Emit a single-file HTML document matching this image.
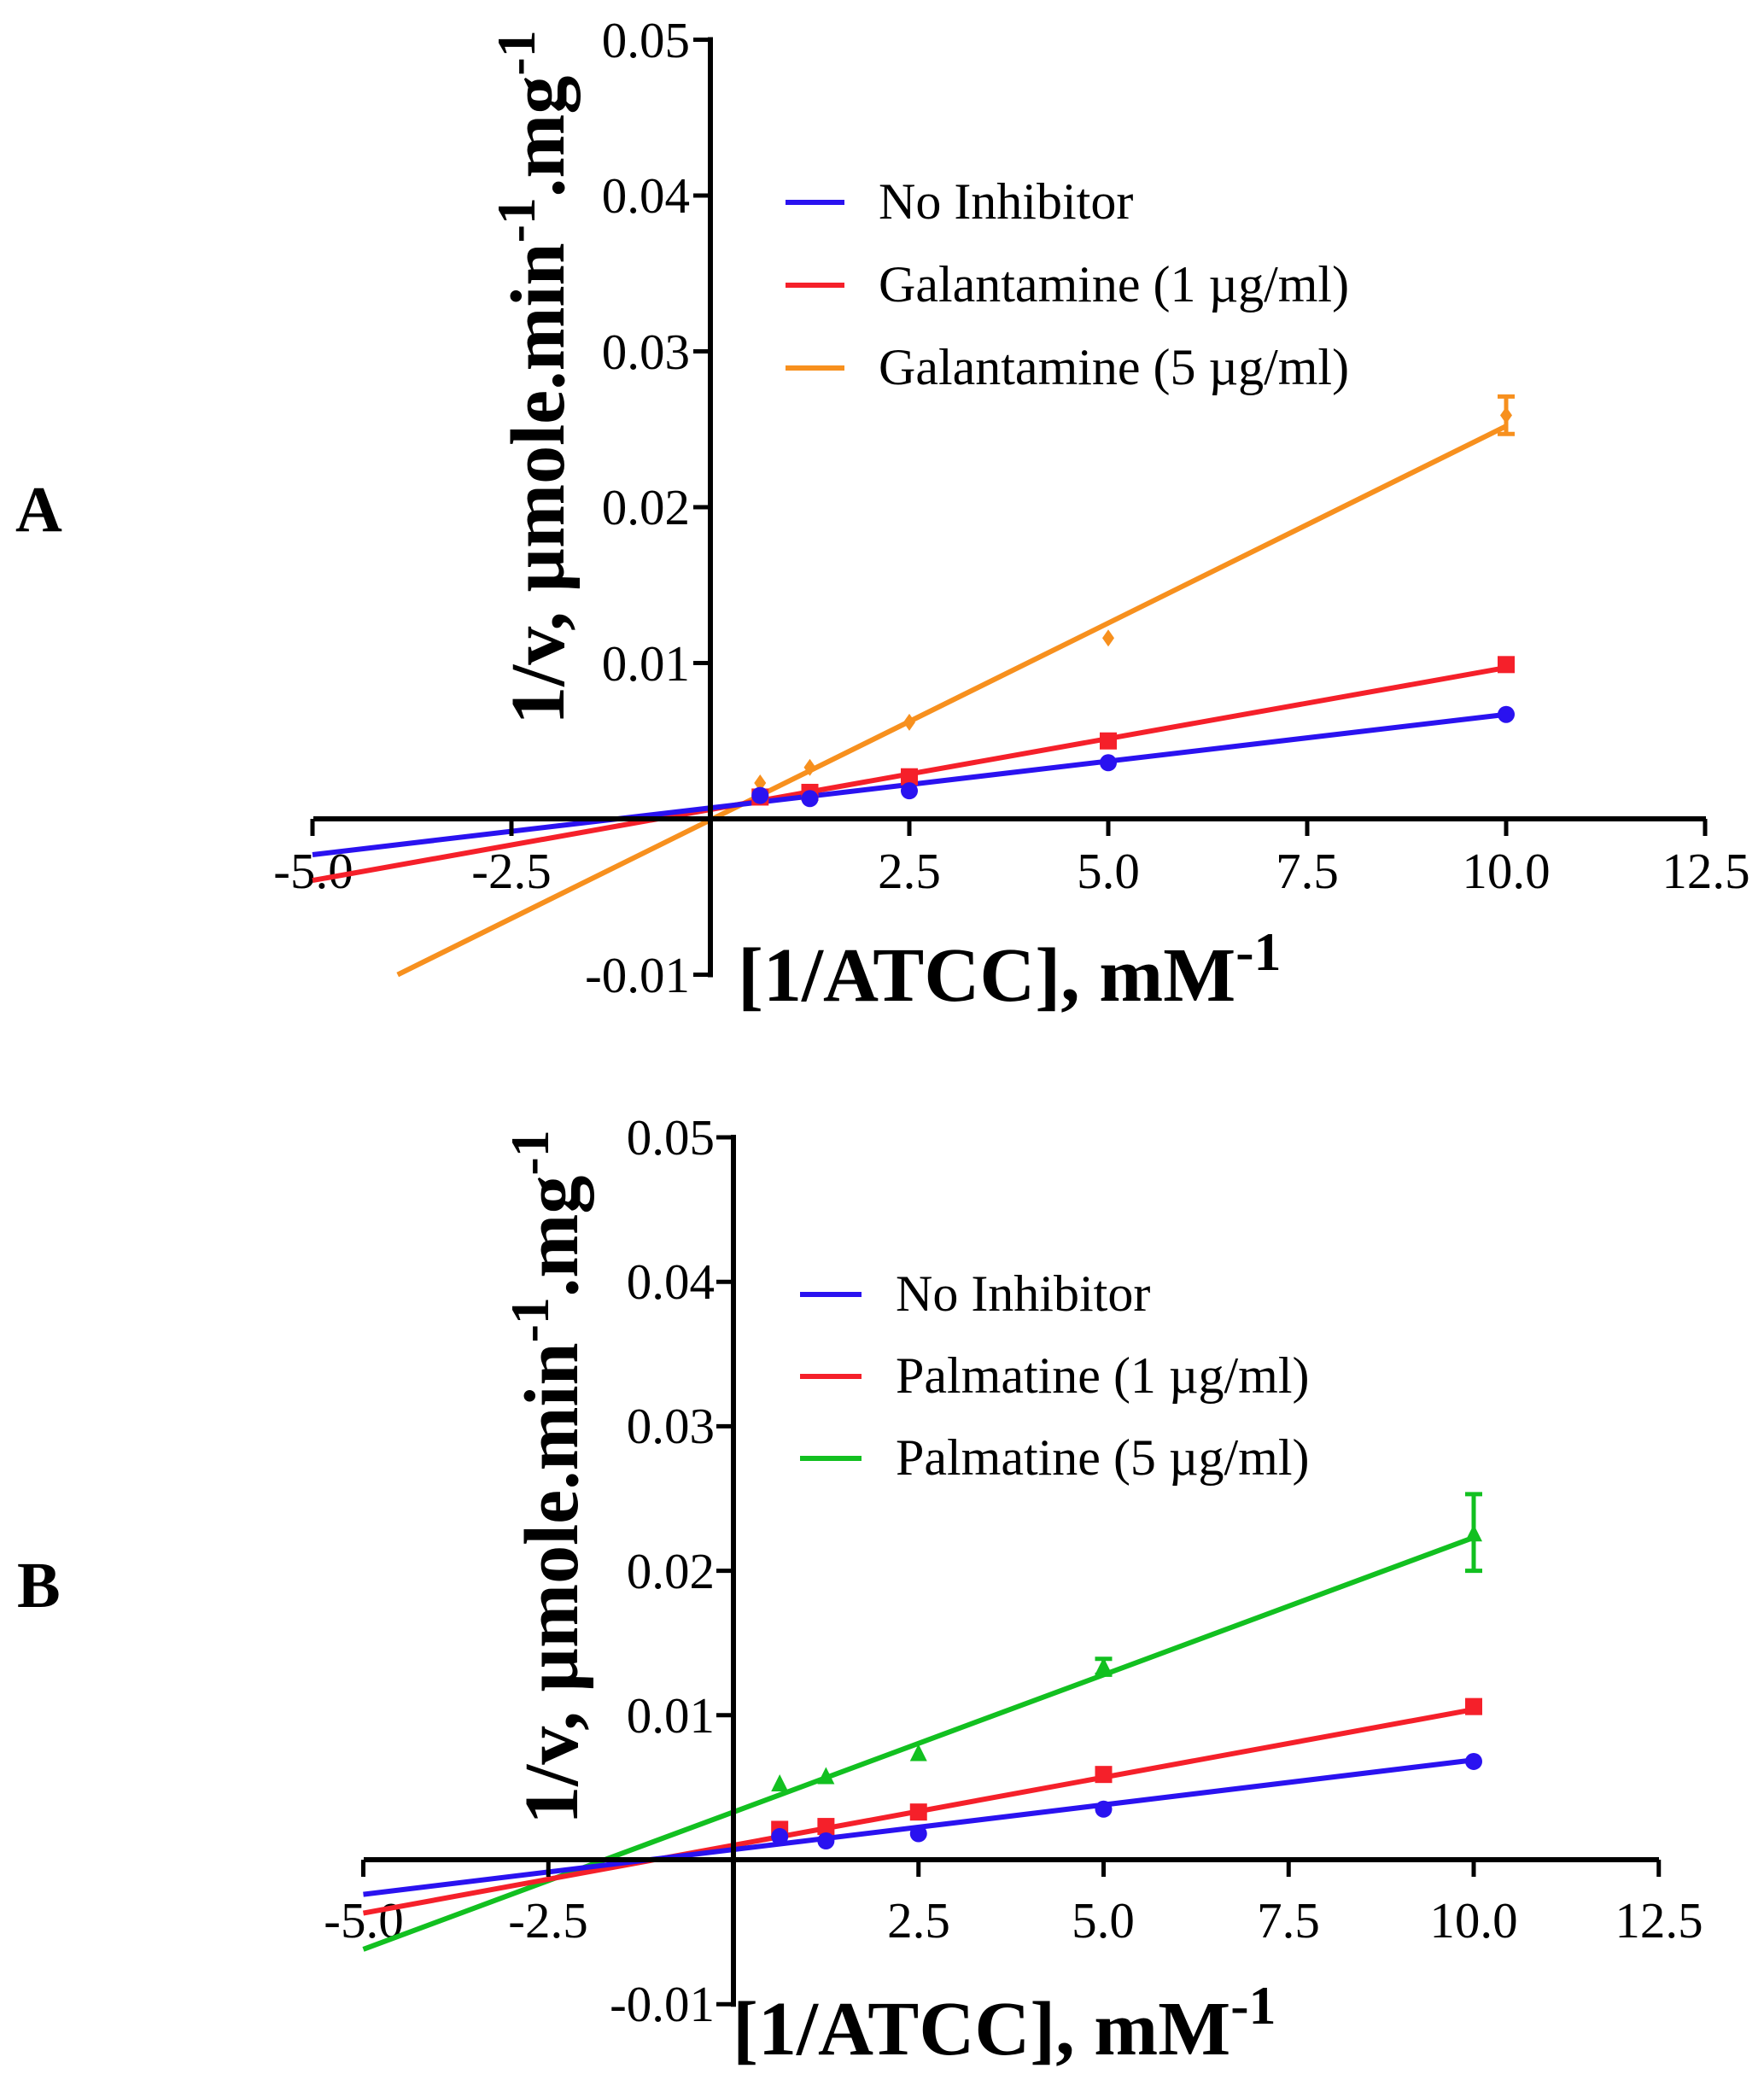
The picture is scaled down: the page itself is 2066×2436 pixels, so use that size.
<!DOCTYPE html>
<html><head><meta charset="utf-8"><style>
html,body{margin:0;padding:0;background:#fff}
svg{display:block}
text{font-family:"Liberation Serif",serif}
.t{font-size:59px}
.l{font-size:60px}
.b{font-weight:bold}
</style></head><body>
<svg id="s" width="2066" height="2436" viewBox="0 0 2066 2436" xmlns="http://www.w3.org/2000/svg">
<text x="18" y="622" class="b" font-size="76">A</text>
<text x="20" y="1882" class="b" font-size="76">B</text>
<g class="t" text-anchor="middle">
<text x="367" y="1040">-5.0</text><text x="599" y="1040">-2.5</text><text x="1065" y="1040">2.5</text><text x="1298" y="1040">5.0</text><text x="1531" y="1040">7.5</text><text x="1764" y="1040">10.0</text><text x="1998" y="1040">12.5</text>
<text x="426" y="2269">-5.0</text><text x="642" y="2269">-2.5</text><text x="1076" y="2269">2.5</text><text x="1292" y="2269">5.0</text><text x="1509" y="2269">7.5</text><text x="1726" y="2269">10.0</text><text x="1943" y="2269">12.5</text>
</g>
<g class="t" text-anchor="end">
<text x="808" y="67">0.05</text><text x="808" y="249">0.04</text><text x="808" y="432">0.03</text><text x="808" y="614">0.02</text><text x="808" y="797">0.01</text><text x="808" y="1162">-0.01</text>
<text x="837" y="1352">0.05</text><text x="837" y="1521">0.04</text><text x="837" y="1690">0.03</text><text x="837" y="1860">0.02</text><text x="837" y="2029">0.01</text><text x="837" y="2367">-0.01</text>
</g>
<text class="b" font-size="90" transform="translate(660,442) rotate(-90)" text-anchor="middle">1/v, µmole.min<tspan dy="-34" font-size="64">-1</tspan><tspan dy="34">.mg</tspan><tspan dy="-34" font-size="64">-1</tspan></text>
<text class="b" font-size="90" transform="translate(676,1730) rotate(-90)" text-anchor="middle">1/v, µmole.min<tspan dy="-34" font-size="64">-1</tspan><tspan dy="34">.mg</tspan><tspan dy="-34" font-size="64">-1</tspan></text>
<text class="b" font-size="90" x="864" y="1172">[1/ATCC], mM<tspan dy="-36" font-size="64">-1</tspan></text>
<text class="b" font-size="90" x="858" y="2406">[1/ATCC], mM<tspan dy="-36" font-size="64">-1</tspan></text>
<g class="l">
<text x="1029" y="256">No Inhibitor</text><text x="1029" y="353">Galantamine (1 µg/ml)</text><text x="1029" y="450">Galantamine (5 µg/ml)</text>
<text x="1049" y="1535">No Inhibitor</text><text x="1049" y="1631">Palmatine (1 µg/ml)</text><text x="1049" y="1727">Palmatine (5 µg/ml)</text>
</g>
<g stroke-width="6">
<line x1="920" y1="237" x2="989" y2="237" stroke="#2a12f0"/><line x1="920" y1="334" x2="989" y2="334" stroke="#f5202a"/><line x1="920" y1="431" x2="989" y2="431" stroke="#f7901e"/>
<line x1="937" y1="1516" x2="1009" y2="1516" stroke="#2a12f0"/><line x1="937" y1="1612" x2="1009" y2="1612" stroke="#f5202a"/><line x1="937" y1="1708" x2="1009" y2="1708" stroke="#12c020"/>
</g>
<g id="g"></g>
</svg>
<script>
var NS="http://www.w3.org/2000/svg",g=document.getElementById('g');
function el(n,a){var e=document.createElementNS(NS,n);for(var k in a)e.setAttribute(k,a[k]);g.appendChild(e);return e;}
function panel(P){
 var X=function(x){return P.x0+x*P.sx},Y=function(y){return P.y0-y*P.sy};
 P.series.forEach(function(s){
  el('line',{x1:X(s.l[0]),y1:Y(s.b+s.m*s.l[0]),x2:X(s.l[1]),y2:Y(s.b+s.m*s.l[1]),stroke:s.c,'stroke-width':6});
 });
 el('line',{x1:P.xa[0],y1:P.y0,x2:P.xa[1],y2:P.y0,stroke:'#000','stroke-width':6});
 el('line',{x1:P.x0,y1:Y(0.05)-3,x2:P.x0,y2:Y(-0.01)+3,stroke:'#000','stroke-width':6});
 for(var i=-2;i<=5;i++){if(i==0)continue;var x=X(i*2.5);el('line',{x1:x,y1:P.y0,x2:x,y2:P.y0+20,stroke:'#000','stroke-width':5});}
 for(var j=-1;j<=5;j++){var y=Y(j*0.01);el('line',{x1:P.x0-20,y1:y,x2:P.x0,y2:y,stroke:'#000','stroke-width':5});}
 var xs=[0.625,1.25,2.5,5,10];
 P.series.forEach(function(s){
  (s.err||[]).forEach(function(e){var x=X(e[0]);el('line',{x1:x,y1:Y(e[1]),x2:x,y2:Y(e[2]),stroke:s.c,'stroke-width':5});
   [e[1],e[2]].forEach(function(v){el('line',{x1:x-10,y1:Y(v),x2:x+10,y2:Y(v),stroke:s.c,'stroke-width':5});});});
  s.d.forEach(function(v,i){var x=X(xs[i]),y=Y(v),r=s.r||10;
   if(s.k=='c')el('circle',{cx:x,cy:y,r:r,fill:s.c});
   else if(s.k=='s')el('rect',{x:x-r,y:y-r,width:2*r,height:2*r,fill:s.c});
   else if(s.k=='d')el('polygon',{points:[x,y-r,x+r*0.7,y,x,y+r,x-r*0.7,y].join(' '),fill:s.c});
   else el('polygon',{points:[x,y-r*1.2,x+r,y+r*0.8,x-r,y+r*0.8].join(' '),fill:s.c});
  });
 });
}
panel({x0:832,sx:93.2,y0:959,sy:18250,xa:[367,1998],series:[
 {c:'#f7901e',b:-0.00007,m:0.002527,l:[-3.93,10],d:[0.0023,0.0033,0.0062,0.0116,0.0259],k:'d',r:10,err:[[10,0.0271,0.0247]]},
 {c:'#f5202a',b:0.0006,m:0.00091,l:[-5,10],d:[0.0014,0.0017,0.0027,0.0050,0.0099],k:'s',r:10},
 {c:'#2a12f0',b:0.0007,m:0.0006,l:[-5,10],d:[0.0015,0.0013,0.0018,0.0036,0.0067],k:'c',r:10}
]});
panel({x0:859,sx:86.7,y0:2178,sy:16920,xa:[426,1943],series:[
 {c:'#12c020',b:0.0033,m:0.0019,l:[-5,10],d:[0.0052,0.0057,0.0073,0.0133,0.0225],k:'t',r:10,err:[[10,0.0253,0.0200],[5,0.0139,0.0128]]},
 {c:'#f5202a',b:0.001,m:0.00094,l:[-5,10],d:[0.0021,0.0023,0.0033,0.0059,0.0106],k:'s',r:10},
 {c:'#2a12f0',b:0.0007,m:0.00062,l:[-5,10],d:[0.0016,0.0013,0.0018,0.0035,0.0068],k:'c',r:10}
]});
</script>
</body></html>
